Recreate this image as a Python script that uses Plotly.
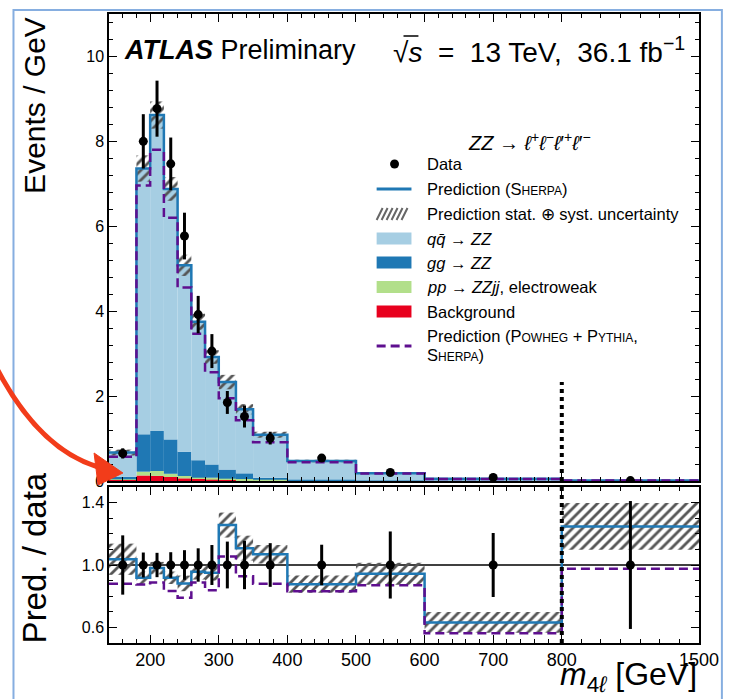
import plotly.graph_objects as go

# ---------------- data ----------------
bin_edges = [140, 180, 200, 220, 240, 260, 280, 300, 325, 350, 400, 500, 600, 800, 1500]
bin_centers = [160, 190, 210, 230, 250, 270, 290, 312.5, 337.5, 375, 450, 550, 700, 1150]

data_vals = [0.65, 8.0, 8.77, 7.47, 5.77, 3.92, 3.06, 1.85, 1.52, 1.01, 0.54, 0.20, 0.085, 0.010]
data_errs = [0.12, 0.64, 0.66, 0.62, 0.55, 0.44, 0.40, 0.27, 0.26, 0.15, 0.07, 0.043, 0.017, 0.004]

sherpa_total = [0.67, 7.36, 8.62, 6.88, 5.08, 3.75, 2.92, 2.33, 1.69, 1.09, 0.47, 0.185, 0.054, 0.0125]
sherpa_unc = [0.07, 0.31, 0.32, 0.28, 0.25, 0.19, 0.16, 0.17, 0.12, 0.07, 0.03, 0.014, 0.0055, 0.0015]
powheg_total = [0.57, 6.96, 7.80, 6.20, 4.56, 3.47, 2.56, 1.95, 1.43, 0.91, 0.44, 0.175, 0.048, 0.0098]

bkg_vals = [0.03, 0.13, 0.12, 0.094, 0.063, 0.047, 0.030, 0.024, 0.016, 0.008, 0.004, 0.002, 0.001, 0.0003]
ew_vals = [0.01, 0.09, 0.115, 0.076, 0.055, 0.031, 0.048, 0.031, 0.031, 0.022, 0.010, 0.004, 0.002, 0.0005]
gg_vals = [0.06, 0.88, 0.945, 0.81, 0.572, 0.412, 0.312, 0.215, 0.133, 0.048, 0.015, 0.006, 0.003, 0.001]

ratio_sherpa = [1.037, 0.918, 0.980, 0.918, 0.882, 0.957, 0.950, 1.256, 1.108, 1.069, 0.877, 0.944, 0.632, 1.247]
ratio_sherpa_unc = [0.10, 0.04, 0.04, 0.04, 0.05, 0.05, 0.05, 0.08, 0.08, 0.06, 0.055, 0.07, 0.067, 0.15]
ratio_powheg = [0.880, 0.875, 0.888, 0.833, 0.790, 0.888, 0.838, 1.055, 0.928, 0.880, 0.832, 0.870, 0.563, 0.976]
ratio_data_err = [0.19, 0.08, 0.078, 0.082, 0.095, 0.107, 0.128, 0.15, 0.155, 0.14, 0.13, 0.215, 0.205, 0.41]

x_tick_vals = [200, 300, 400, 500, 600, 700, 800, 1500]
x_tick_text = ["200", "300", "400", "500", "600", "700", "800", "1500"]

# ---------------- axis transform (800-1500 compressed) ----------------
def tx(v):
    return v if v <= 800 else 800 + (v - 800) / 3.5

ex = [tx(e) for e in bin_edges]
cx = [tx(c) for c in bin_centers]
wx = [ex[i + 1] - ex[i] for i in range(len(bin_centers))]
mx = [(ex[i] + ex[i + 1]) / 2 for i in range(len(bin_centers))]

C_QQ = "#a6cee3"
C_GG = "#1f78b4"
C_EW = "#b2df8a"
C_BKG = "#e8001e"
C_SH = "#1f78b4"
C_PW = "#5e0f8f"
C_HATCH = "#555555"
DASH = "9px,5px"

fig = go.Figure()

# stacked components (top panel)
base_ew = bkg_vals
base_gg = [b + e for b, e in zip(bkg_vals, ew_vals)]
base_qq = [b + e + g for b, e, g in zip(bkg_vals, ew_vals, gg_vals)]
qq_vals = [t - b for t, b in zip(sherpa_total, base_qq)]

def add_bar(y, base, color, xa="x", ya="y"):
    fig.add_trace(go.Bar(x=mx, y=y, base=base, width=wx, marker=dict(color=color, line=dict(width=0)),
                         xaxis=xa, yaxis=ya, showlegend=False, hoverinfo="skip"))

add_bar(bkg_vals, [0] * len(bkg_vals), C_BKG)
add_bar(ew_vals, base_ew, C_EW)
add_bar(gg_vals, base_gg, C_GG)
add_bar(qq_vals, base_qq, C_QQ)

pattern = dict(shape="/", fgcolor=C_HATCH, bgcolor="rgba(0,0,0,0)", size=7, solidity=0.4, fgopacity=1)

# hatch uncertainty (top)
fig.add_trace(go.Bar(x=mx, y=[2 * u for u in sherpa_unc], base=[t - u for t, u in zip(sherpa_total, sherpa_unc)],
                     width=wx, marker=dict(color="rgba(0,0,0,0)", line=dict(width=0), pattern=pattern),
                     xaxis="x", yaxis="y", showlegend=False, hoverinfo="skip"))

# step lines (top)
fig.add_trace(go.Scatter(x=ex, y=sherpa_total + [sherpa_total[-1]], mode="lines", line=dict(shape="hv", color=C_SH, width=2.5),
                         xaxis="x", yaxis="y", showlegend=False))
fig.add_trace(go.Scatter(x=ex, y=powheg_total + [powheg_total[-1]], mode="lines",
                         line=dict(shape="hv", color=C_PW, width=2.5, dash=DASH),
                         xaxis="x", yaxis="y", showlegend=False))

# data (top)
fig.add_trace(go.Scatter(x=cx, y=data_vals, mode="markers", marker=dict(color="black", size=9),
                         error_y=dict(type="data", array=data_errs, color="black", thickness=3, width=0),
                         xaxis="x", yaxis="y", showlegend=False))

# ratio panel
fig.add_trace(go.Bar(x=mx, y=[2 * u for u in ratio_sherpa_unc], base=[r - u for r, u in zip(ratio_sherpa, ratio_sherpa_unc)],
                     width=wx, marker=dict(color="rgba(0,0,0,0)", line=dict(width=0), pattern=pattern),
                     xaxis="x2", yaxis="y2", showlegend=False, hoverinfo="skip"))
fig.add_trace(go.Scatter(x=ex, y=ratio_sherpa + [ratio_sherpa[-1]], mode="lines", line=dict(shape="hv", color=C_SH, width=2.5),
                         xaxis="x2", yaxis="y2", showlegend=False))
fig.add_trace(go.Scatter(x=ex, y=ratio_powheg + [ratio_powheg[-1]], mode="lines",
                         line=dict(shape="hv", color=C_PW, width=2.5, dash=DASH),
                         xaxis="x2", yaxis="y2", showlegend=False))
fig.add_trace(go.Scatter(x=cx, y=[1.0] * len(cx), mode="markers", marker=dict(color="black", size=9),
                         error_y=dict(type="data", array=ratio_data_err, color="black", thickness=3, width=0),
                         xaxis="x2", yaxis="y2", showlegend=False))

# ---------------- layout geometry ----------------
W, H = 731, 699
L, R, T, B = 109, 702, 14, 643

def px(x):
    return (x - L) / (R - L)

def py(y):
    return (B - y) / (B - T)

top_dom = [py(481), 1.0]
rat_dom = [0.0, py(487)]

minor_x = [v for v in range(160, 800, 20) if v % 100 != 0] + [tx(v) for v in range(900, 1500, 100)]

axis_common = dict(showline=True, linecolor="black", linewidth=1.5, mirror="allticks", ticks="inside",
                   tickcolor="black", tickwidth=1.2, showgrid=False, zeroline=False)

fig.update_layout(
    width=W, height=H, margin=dict(l=L, r=W - R, t=T, b=H - B),
    paper_bgcolor="white", plot_bgcolor="white", barmode="overlay",
    font=dict(family="Liberation Sans, Arial, sans-serif", color="black"),
    xaxis=dict(domain=[0, 1], anchor="y", range=[140, 1000], tickmode="array", tickvals=[tx(v) for v in x_tick_vals],
               showticklabels=False, ticklen=8, minor=dict(tickmode="array", tickvals=minor_x, ticklen=4, ticks="inside", tickcolor="black"),
               **axis_common),
    yaxis=dict(domain=top_dom, anchor="x", range=[0, 11], tick0=0, dtick=2, ticklen=8,
               tickfont=dict(size=16), minor=dict(dtick=0.4, ticklen=4, ticks="inside", tickcolor="black"), **axis_common),
    xaxis2=dict(domain=[0, 1], anchor="y2", matches="x", range=[140, 1000], tickmode="array",
                tickvals=[tx(v) for v in x_tick_vals], ticktext=x_tick_text, tickfont=dict(size=18), ticklen=8,
                minor=dict(tickmode="array", tickvals=minor_x, ticklen=4, ticks="inside", tickcolor="black"), **axis_common),
    yaxis2=dict(domain=rat_dom, anchor="x2", range=[0.5, 1.5], tick0=0.6, dtick=0.4, tickformat=".1f", ticklen=8,
                tickfont=dict(size=16), minor=dict(dtick=0.1, ticklen=4, ticks="inside", tickcolor="black"), **axis_common),
)

shapes = []
shapes.append(dict(type="line", xref="x2 domain", yref="y2", x0=0, x1=1, y0=1, y1=1, line=dict(color="black", width=1.5), layer="below"))
shapes.append(dict(type="line", xref="x", yref="y", x0=800, x1=800, y0=0, y1=2.33, line=dict(color="black", width=4, dash="dot")))
shapes.append(dict(type="line", xref="x2", yref="y2", x0=800, x1=800, y0=0.5, y1=1.5, line=dict(color="black", width=4, dash="dot")))

# slide frame
shapes.append(dict(type="rect", xref="paper", yref="paper", x0=px(13), x1=px(725), y0=py(10), y1=py(760),
                   line=dict(color="#86aee0", width=2), fillcolor="rgba(0,0,0,0)"))

def P(x, y):
    return f"{px(x):.5f},{py(y):.5f}"

# red arrow
shapes.append(dict(type="path", xref="paper", yref="paper",
                   path=f"M {P(-5, 366)} Q {P(38, 449)} {P(98, 467)}",
                   line=dict(color="#f23c1a", width=5)))
shapes.append(dict(type="path", xref="paper", yref="paper",
                   path=f"M {P(123, 473)} L {P(94, 453)} L {P(98, 485)} Z",
                   line=dict(color="#f23c1a", width=1), fillcolor="#f23c1a"))

# legend symbols
SX0, SX1 = 378, 413
shapes.append(dict(type="circle", xref="paper", yref="paper", x0=px(391.5), x1=px(400.5), y0=py(168.5), y1=py(159.5),
                   fillcolor="black", line=dict(color="black", width=0)))
shapes.append(dict(type="line", xref="paper", yref="paper", x0=px(SX0), x1=px(SX1), y0=py(189), y1=py(189),
                   line=dict(color=C_SH, width=3)))
hy0, hy1 = 208, 220
hp = ""
x = SX0
while x + 6 <= SX1:
    hp += f"M {P(x, hy1)} L {P(x + 6, hy0)} "
    x += 5
shapes.append(dict(type="path", xref="paper", yref="paper", path=hp, line=dict(color="#666666", width=2)))
for yc, col in [(238.5, C_QQ), (262.5, C_GG), (287, C_EW), (311.5, C_BKG)]:
    shapes.append(dict(type="rect", xref="paper", yref="paper", x0=px(SX0), x1=px(SX1), y0=py(yc + 6), y1=py(yc - 6),
                       fillcolor=col, line=dict(width=0)))
shapes.append(dict(type="line", xref="paper", yref="paper", x0=px(SX0), x1=px(SX1), y0=py(346), y1=py(346),
                   line=dict(color=C_PW, width=3, dash=DASH)))

# overline of the square root in the energy label
shapes.append(dict(type="line", xref="paper", yref="paper", x0=px(405), x1=px(420), y0=py(36), y1=py(36),
                   line=dict(color="black", width=1.5)))

fig.update_layout(shapes=shapes)

ann = []
def text(x, y, s, size=16.5, xanchor="left", yanchor="middle", angle=0):
    ann.append(dict(xref="paper", yref="paper", x=px(x), y=py(y), text=s, showarrow=False, xanchor=xanchor,
                    yanchor=yanchor, textangle=angle, font=dict(size=size, color="black")))

sc = "<span style='font-size:12px'>"
text(532, 141, "<i>ZZ</i> → <i>ℓ</i><sup>+</sup><i>ℓ</i><sup>−</sup><i>ℓ</i>′<sup>+</sup><i>ℓ</i>′<sup>−</sup>", size=20, xanchor="center")
text(427, 164, "Data")
text(427, 189, f"Prediction (S{sc}HERPA</span>)")
text(427, 214, "Prediction stat. ⊕ syst. uncertainty")
text(427, 238.5, "<i>q</i><i>q̄</i> → <i>ZZ</i>")
text(427, 262.5, "<i>gg</i> → <i>ZZ</i>")
text(427, 287, "<i>pp</i> → <i>ZZjj</i>, electroweak")
text(427, 311.5, "Background")
text(427, 336, f"Prediction (P{sc}OWHEG</span> + P{sc}YTHIA</span>,")
text(427, 355, f"S{sc}HERPA</span>)")

text(122, 50, "<b><i>ATLAS</i></b> Preliminary", size=27)
text(690, 50, "√<i>s</i>&nbsp; = &nbsp;13 TeV, &nbsp;36.1 fb<sup>−1</sup>", size=28, xanchor="right")

text(34, 15, "Events / GeV", size=30, xanchor="center", yanchor="top", angle=-90)
text(34, 558, "Pred. / data", size=33, xanchor="center", yanchor="middle", angle=-90)
text(702, 699, "<i>m</i><sub>4<i>ℓ</i></sub> [GeV]", size=32, xanchor="right", yanchor="bottom")

fig.update_layout(annotations=ann)

fig.write_html("out.html", config={"displayModeBar": False},
               post_script="document.body.style.margin='0';document.body.style.overflow='hidden';")
